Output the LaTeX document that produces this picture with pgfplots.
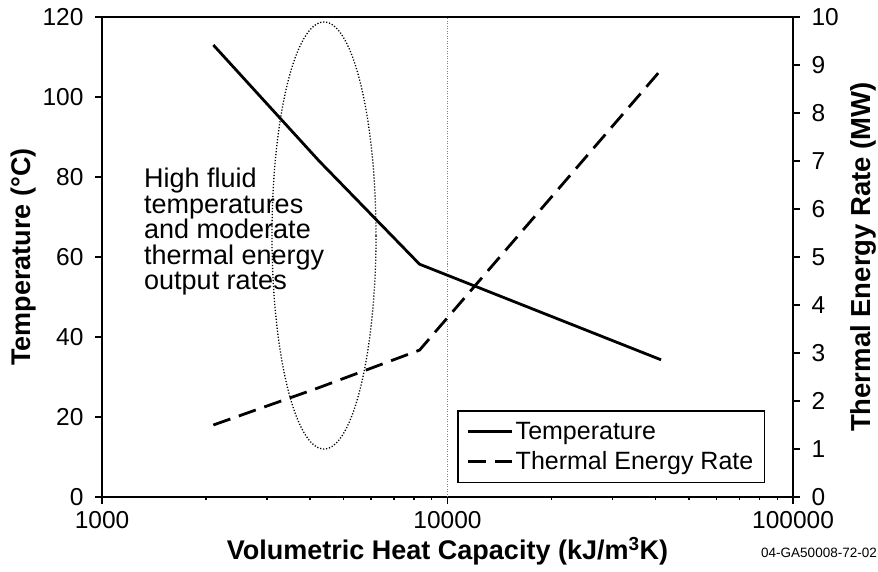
\documentclass[border=0pt]{standalone}
\usepackage{pgfplots}
\pgfplotsset{compat=1.18}
\usepackage{fontspec}
\setmainfont{Liberation Sans}
\begin{document}
\begin{tikzpicture}
\useasboundingbox (-102pt,-74pt) rectangle (776pt,497pt);
\begin{axis}[
  at={(0pt,0pt)}, anchor=south west,
  scale only axis, width=691pt, height=480pt,
  xmode=log, xmin=1000, xmax=100000,
  xtick={1000,10000,100000}, xticklabels={1000,10000,100000},
  minor xtick={},
  tick align=outside, major tick length=7pt,
  tick style={line width=1.4pt, black},
  axis line style={line width=1.8pt},
  tick label style={font=\fontsize{24.5}{24.5}\selectfont},
  /pgf/number format/assume math mode=true,
  xticklabel shift=4pt, yticklabel shift=8pt,
  label style={font=\fontsize{27}{27}\selectfont\bfseries},
  ymin=0, ymax=120, ytick={0,20,...,120},
  axis y line*=left, xtick pos=bottom,
  xlabel={Volumetric Heat Capacity (kJ/m\textsuperscript{3}K)},
  ylabel={Temperature (°C)},
  every axis x label/.append style={at={(rel axis cs:0.5,-0.1125)}, anchor=center},
  every axis y label/.append style={at={(rel axis cs:-0.1143,0.5)}, anchor=center},
  clip=false]
\addplot[gray, line width=0.7pt, dash pattern=on 1pt off 1.5pt] coordinates {(10000,0) (10000,120)};
\addplot[black, line width=2.8pt, line join=round] coordinates {
  (2100,113) (4250,84) (8300,58.2) (41500,34.3)};
\end{axis}
\begin{axis}[
  at={(0pt,0pt)}, anchor=south west,
  scale only axis, width=691pt, height=480pt,
  xmode=log, xmin=1000, xmax=100000,
  xtick={1000,10000,100000}, xticklabels={1000,10000,100000},
  minor xtick={},
  tick align=outside, major tick length=7pt,
  tick style={line width=1.4pt, black},
  axis line style={line width=1.8pt},
  tick label style={font=\fontsize{24.5}{24.5}\selectfont},
  /pgf/number format/assume math mode=true,
  yticklabel shift=8pt,
  label style={font=\fontsize{27.5}{27.5}\selectfont\bfseries},
  ymin=0, ymax=10, ytick={0,1,...,10},
  axis y line*=right, axis x line=none,
  ylabel={Thermal Energy Rate (MW)},
  every axis y label/.append style={at={(rel axis cs:1.1013,0.5)}, anchor=center},
  legend style={at={(rel axis cs:0.9595,0.029)}, anchor=south east,
    draw=black, line width=1.4pt,
    font=\fontsize{25}{25}\selectfont,
    cells={anchor=west}, row sep=7pt, inner xsep=9pt, inner ysep=9pt},
  legend image code/.code={\draw[#1] (0pt,0pt) -- (44pt,0pt);}]
\addlegendimage{black, line width=2.8pt}
\addlegendentry{Temperature}
\addplot[black, line width=2.8pt, dash pattern=on 18pt off 9pt] coordinates {
  (2100,1.5) (4250,2.28) (8300,3.06) (41500,8.9)};
\addlegendentry{Thermal Energy Rate}
\end{axis}
\draw[black, line width=1.3pt, dash pattern=on 1.2pt off 1.8pt] (222pt,261.5pt) ellipse [x radius=52pt, y radius=213.5pt];
\node[anchor=north west, inner sep=0pt, align=left, font=\fontsize{27}{25.5}\selectfont] at (42pt,329pt)
  {High fluid\\temperatures\\and moderate\\thermal energy\\output rates};
\node[anchor=east, inner sep=0pt, font=\fontsize{13.5}{13.5}\selectfont] at (775pt,-56pt) {04-GA50008-72-02};
\end{tikzpicture}
\end{document}
